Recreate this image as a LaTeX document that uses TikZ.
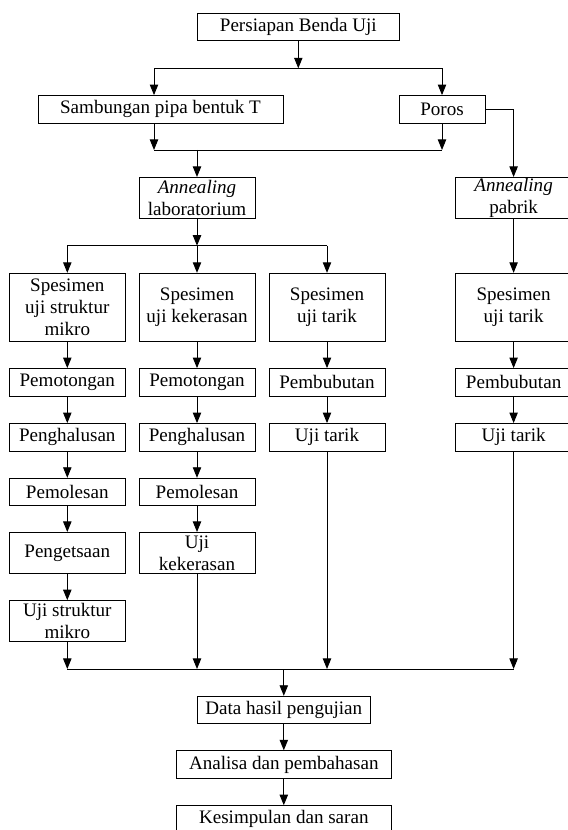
\documentclass[tikz,border=0pt]{standalone}
\usepackage{fontspec}
\setmainfont{Liberation Serif}
\usetikzlibrary{arrows.meta}

\begin{document}
\begin{tikzpicture}[x=0.645pt, y=-0.645pt,
        box/.style={draw, line width=0.6pt, align=center, inner sep=0pt,
            font=\fontsize{12.3}{14.2}\selectfont, minimum width=74.8pt},
        one/.style={minimum height=17.7pt},
        two/.style={minimum height=26.5pt},
        three/.style={minimum height=44.1pt},
        arr/.style={line width=0.6pt, -{Triangle[length=6.8pt, width=5.4pt]}},
        ln/.style={line width=0.6pt}]
    \useasboundingbox (0,0) rectangle (567,830);
    % Top part
    \node[box, one, minimum width=130.3pt] (persiapan) at (298.3,27.2) {Persiapan Benda Uji};
    \node[box, one, minimum width=158pt] (sambungan) at (160.5,109.3) {Sambungan pipa bentuk T};
    \node[box, one, minimum width=55.5pt] (poros) at (442,109.3) {Poros};
    \node[box, two] (annlab) at (197,198) {\textit{Annealing}\\laboratorium};
    \node[box, two] (annpab) at (513.6,198) {\textit{Annealing}\\pabrik};
    % Junctions
    \coordinate (cabang1) at (298.3,68.3);
    \coordinate (kiri1) at (154,68.3);
    \coordinate (kanan1) at (442,68.3);
    \coordinate (kiri2) at (154,150);
    \coordinate (kanan2) at (442,150);
    \coordinate (gabung2) at (197,150);
    \draw[ln] (kiri1) -- (kanan1);
    \draw[arr] (persiapan.south) -- (cabang1);
    \draw[arr] (kiri1) -- (kiri1 |- sambungan.north);
    \draw[arr] (kanan1) -- (poros.north);
    \draw[ln] (kiri2) -- (kanan2);
    \draw[arr] (kiri2 |- sambungan.south) -- (kiri2);
    \draw[arr] (poros.south) -- (kanan2);
    \draw[arr] (gabung2) -- (annlab.north);
    \draw[arr] (poros.east) -| (annpab.north);
    % Spesimen
    \node[box, three] (spmikro) at (67.3,307.5) {Spesimen\\uji struktur\\mikro};
    \node[box, three] (spkeras) at (197,307.5) {Spesimen\\uji kekerasan};
    \node[box, three] (sptarik) at (327,307.5) {Spesimen\\uji tarik};
    \node[box, three] (sptarikp) at (513.6,307.5) {Spesimen\\uji tarik};
    \coordinate (cabang3) at (197,245.7);
    \draw[arr] (annlab.south) -- (cabang3);
    \draw[ln] (67.3,245.7) coordinate (kiri3) -- (327,245.7) coordinate (kanan3);
    \draw[arr] (kiri3) -- (spmikro.north);
    \draw[arr] (cabang3) -- (spkeras.north);
    \draw[arr] (kanan3) -- (sptarik.north);
    \draw[arr] (annpab.south) -- (sptarikp.north);
    % Kolom mikro
    \node[box, one] (potong1) at (67.3,382.3) {Pemotongan};
    \node[box, one] (halus1) at (67.3,437.3) {Penghalusan};
    \node[box, one] (poles1) at (67.3,492) {Pemolesan};
    \node[box, two] (etsa) at (67.3,553) {Pengetsaan};
    \node[box, two] (ujimikro) at (67.3,621.2) {Uji struktur\\mikro};
    % Kolom kekerasan
    \node[box, one] (potong2) at (197,382.3) {Pemotongan};
    \node[box, one] (halus2) at (197,437.3) {Penghalusan};
    \node[box, one] (poles2) at (197,492) {Pemolesan};
    \node[box, two] (ujikeras) at (197,553) {Uji\\kekerasan};
    % Kolom tarik
    \node[box, one] (bubut1) at (327,382.3) {Pembubutan};
    \node[box, one] (ujitarik1) at (327,437.3) {Uji tarik};
    \node[box, one] (bubut2) at (513.6,382.3) {Pembubutan};
    \node[box, one] (ujitarik2) at (513.6,437.3) {Uji tarik};
    \foreach \a/\b in {spmikro/potong1, potong1/halus1, halus1/poles1, poles1/etsa, etsa/ujimikro,
                       spkeras/potong2, potong2/halus2, halus2/poles2, poles2/ujikeras,
                       sptarik/bubut1, bubut1/ujitarik1, sptarikp/bubut2, bubut2/ujitarik2}
    {
        \draw[arr] (\a) -- (\b);
    }
    % Bottom part
    \node[box, one, minimum width=111.6pt] (data) at (283.8,710) {Data hasil pengujian};
    \node[box, one, minimum width=138.7pt] (analisa) at (283.8,764.5) {Analisa dan pembahasan};
    \node[box, one, minimum width=138.7pt] (kesimpulan) at (283.8,819.4) {Kesimpulan dan saran};
    \draw[ln] (67.3,669) -- (513.6,669);
    \foreach \a in {ujimikro, ujikeras, ujitarik1, ujitarik2}
    {
        \draw[arr] (\a.south) -- (\a.south |- 0,669);
    }
    \draw[arr] (data.north |- 0,669) -- (data.north);
    \draw[arr] (data) -- (analisa);
    \draw[arr] (analisa) -- (kesimpulan);
\end{tikzpicture}
\end{document}
